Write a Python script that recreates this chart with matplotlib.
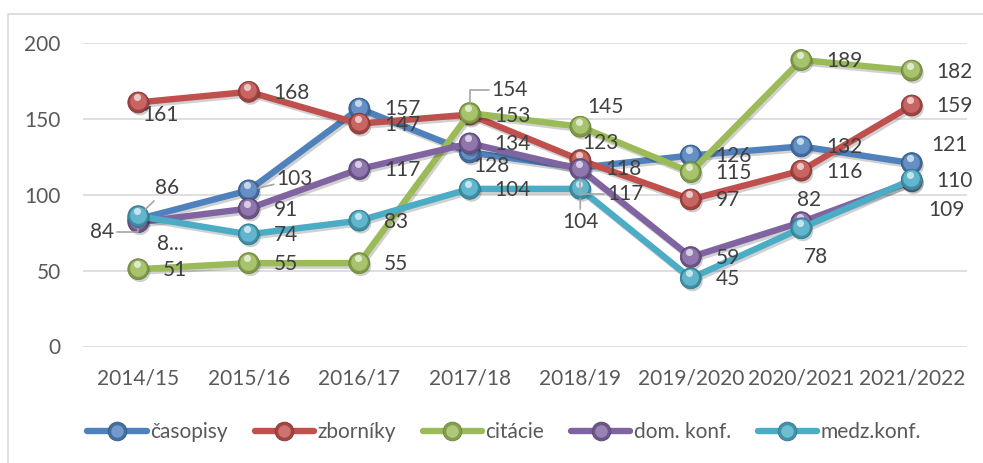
import matplotlib
matplotlib.use("Agg")
import matplotlib.pyplot as plt
import matplotlib.patheffects as pe
from matplotlib.transforms import ScaledTranslation
from matplotlib.legend_handler import HandlerTuple
from matplotlib.lines import Line2D
from matplotlib.patches import Rectangle
import numpy as np

# ---------------- data ----------------
categories = ["2014/15", "2015/16", "2016/17", "2017/18", "2018/19",
              "2019/2020", "2020/2021", "2021/2022"]
casopisy = [84, 103, 157, 128, 118, 126, 132, 121]
zborniky = [161, 168, 147, 153, 123, 97, 116, 159]
citacie = [51, 55, 55, 154, 145, 115, 189, 182]
dom_konf = [82, 91, 117, 134, 117, 59, 82, 109]
medz_konf = [86, 74, 83, 104, 104, 45, 78, 110]
series_names = ["časopisy", "zborníky", "citácie", "dom. konf.", "medz.konf."]
y_ticks = [0, 50, 100, 150, 200]

series_values = [casopisy, zborniky, citacie, dom_konf, medz_konf]

# ---------------- style ----------------
plt.rcParams['font.family'] = ['Lato', 'DejaVu Sans']
colors = ["#4F81BD", "#C0504D", "#9BBB59", "#8064A2", "#4BACC6"]
FS = 15
PX = 0.72  # points per pixel at dpi 100

# label overrides (center offsets in px, y down) -- default: right of marker
label_pos = {
    (0, 0): (-36, 13), (0, 1): (46, -11), (0, 3): (22, 14), (0, 7): (38, -18),
    (1, 0): (22, 13), (1, 4): (20, -17),
    (2, 3): (40, -23), (2, 4): (25, -20),
    (3, 0): (32, 22), (3, 4): (45, 25), (3, 6): (8, -22), (3, 7): (35, 29),
    (4, 0): (29, -28), (4, 4): (0, 33), (4, 6): (15, 29),
}
label_text = {(3, 0): "8..."}
leaders = {
    (0, 0): "angle,angleA=0,angleB=90,rad=0",
    (0, 1): "arc3,rad=0",
    (2, 3): "angle,angleA=0,angleB=90,rad=0",
    (3, 4): "angle,angleA=0,angleB=90,rad=0",
    (4, 0): "arc3,rad=0",
    (4, 4): "arc3,rad=0",
}

fig = plt.figure(figsize=(9.83, 4.63), dpi=100)
ax = fig.add_axes([83 / 983, 1 - 346.5 / 463, 884 / 983, (346.5 - 43.3) / 463])

# chart border
fig.patches.append(Rectangle((7.5 / 983, -0.1), 1.2, 1 - 13.5 / 463 + 0.1,
                             transform=fig.transFigure, fill=False,
                             edgecolor="#d9d9d9", lw=1.2))

x = np.arange(len(categories))


def shade(c, f):
    c = np.array(matplotlib.colors.to_rgb(c))
    if f < 1:
        return tuple(c * f)
    return tuple(c + (1 - c) * (f - 1))


shadow = [pe.SimpleLineShadow(offset=(1.2, -1.8), shadow_color='k', alpha=0.18),
          pe.Normal()]
up1 = ScaledTranslation(-0.4 / 72, 1.0 / 72, fig.dpi_scale_trans)
up2 = ScaledTranslation(-1.2 / 72, 3.6 / 72, fig.dpi_scale_trans)

MS = 15
handles = []
for si, (name, vals, c) in enumerate(zip(series_names, series_values, colors)):
    z = 3 + si * 0.1
    ax.plot(x, vals, color=c, lw=4.6, solid_capstyle='round', zorder=z,
            path_effects=shadow)
    ax.plot(x, vals, ls='none', marker='o', ms=MS, mfc=shade(c, 0.82),
            mec=shade(c, 0.7), mew=0.6, zorder=z + 0.01,
            path_effects=[pe.SimplePatchShadow(offset=(1.2, -1.8), alpha=0.22), pe.Normal()])
    ax.plot(x, vals, ls='none', marker='o', ms=MS * 0.8, mfc=shade(c, 1.12), mec='none',
            zorder=z + 0.02, transform=ax.transData + up1)
    ax.plot(x, vals, ls='none', marker='o', ms=MS * 0.34, mfc=shade(c, 1.75),
            mec='none', alpha=0.9, zorder=z + 0.03, transform=ax.transData + up2)
    h1 = Line2D([], [], color=c, lw=4.6, solid_capstyle='round', marker='o', ms=MS * 0.9,
                mfc=shade(c, 0.85), mec=shade(c, 0.7), mew=0.6)
    h2 = Line2D([], [], ls='none', marker='o', ms=MS * 0.6, mfc=shade(c, 1.2),
                mec='none')
    handles.append((h1, h2))

# data labels
for si, vals in enumerate(series_values):
    for i, v in enumerate(vals):
        txt = label_text.get((si, i), str(v))
        if (si, i) in label_pos:
            dx, dy = label_pos[(si, i)]
            ha = 'center'
        else:
            dx, dy = 25, 1
            ha = 'left'
        kw = {}
        if (si, i) in leaders:
            kw['arrowprops'] = dict(arrowstyle='-', color='#a6a6a6', lw=1.2,
                                    shrinkA=0, shrinkB=7,
                                    connectionstyle=leaders[(si, i)])
        ax.annotate(txt, (i, v), xytext=(dx * PX, -dy * PX),
                    textcoords='offset points', ha=ha, va='center',
                    fontsize=FS, color='#404040', zorder=10, **kw)

ax.set_xlim(-0.5, len(categories) - 0.5)
ax.set_ylim(0, 200)
ax.set_yticks(y_ticks)
ax.set_xticks(x)
ax.set_xticklabels(categories)
ax.tick_params(axis='both', length=0, labelsize=FS, labelcolor='#595959')
ax.tick_params(axis='y', pad=16)
ax.tick_params(axis='x', pad=16)
ax.grid(axis='y', color='#d9d9d9', lw=1.2)
ax.set_axisbelow(True)
for s in ax.spines.values():
    s.set_visible(False)

fig.legend(handles, series_names, handler_map={tuple: HandlerTuple(ndivide=1)},
           loc='center', bbox_to_anchor=(504 / 983, 1 - 432 / 463), ncol=5,
           frameon=False, fontsize=FS, labelcolor='#595959',
           handlelength=2.85, handletextpad=0.15, columnspacing=1.3)

fig.savefig("out.png", dpi=100)
